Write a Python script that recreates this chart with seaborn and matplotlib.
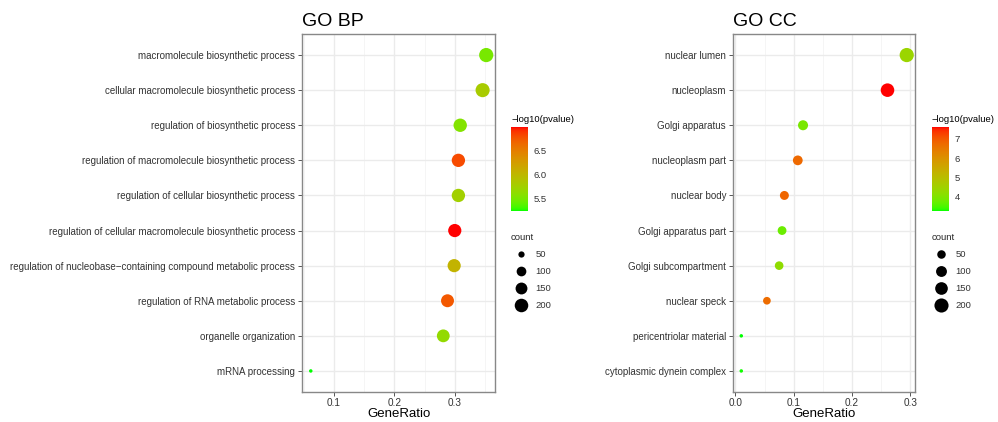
import matplotlib
matplotlib.use("Agg")
import matplotlib.pyplot as plt
import matplotlib.colors as mcolors
from matplotlib.lines import Line2D
from matplotlib.ticker import MultipleLocator
import numpy as np
import pandas as pd
import seaborn as sns

# ---- data (listed top to bottom) ----
bp_terms = [
    "macromolecule biosynthetic process",
    "cellular macromolecule biosynthetic process",
    "regulation of biosynthetic process",
    "regulation of macromolecule biosynthetic process",
    "regulation of cellular biosynthetic process",
    "regulation of cellular macromolecule biosynthetic process",
    "regulation of nucleobase\u2212containing compound metabolic process",
    "regulation of RNA metabolic process",
    "organelle organization",
    "mRNA processing",
]
bp_ratio = [0.352, 0.346, 0.309, 0.306, 0.306, 0.300, 0.299, 0.288, 0.281, 0.062]
bp_logp = [5.50, 5.80, 5.55, 6.82, 5.75, 7.00, 6.05, 6.75, 5.65, 5.24]
bp_count = [222, 218, 195, 193, 193, 189, 188, 181, 177, 38]
bp_cticks = [5.5, 6.0, 6.5]

cc_terms = [
    "nuclear lumen",
    "nucleoplasm",
    "Golgi apparatus",
    "nucleoplasm part",
    "nuclear body",
    "Golgi apparatus part",
    "Golgi subcompartment",
    "nuclear speck",
    "pericentriolar material",
    "cytoplasmic dynein complex",
]
cc_ratio = [0.294, 0.261, 0.116, 0.107, 0.084, 0.080, 0.075, 0.054, 0.010, 0.010]
cc_logp = [4.40, 7.62, 3.90, 6.75, 6.80, 3.75, 4.20, 6.70, 3.25, 3.28]
cc_count = [203, 180, 80, 74, 58, 55, 52, 37, 7, 7]
cc_cticks = [4, 5, 6, 7]

size_breaks = [50, 100, 150, 200]

W, H = 998, 422
DPI = 100


def lab_gradient(low, high, n=256):
    """green -> red gradient interpolated in CIE Lab, like ggplot's scale_colour_gradient"""
    m = np.array([[0.4124, 0.3576, 0.1805], [0.2126, 0.7152, 0.0722], [0.0193, 0.1192, 0.9505]])
    white = np.array([0.95047, 1.0, 1.08883])

    def to_lab(c):
        rgb = np.array(mcolors.to_rgb(c))
        lin = np.where(rgb <= 0.04045, rgb / 12.92, ((rgb + 0.055) / 1.055) ** 2.4)
        xyz = m @ lin / white
        f = np.where(xyz > 0.008856, np.cbrt(xyz), 7.787 * xyz + 16 / 116)
        return np.array([116 * f[1] - 16, 500 * (f[0] - f[1]), 200 * (f[1] - f[2])])

    t = np.linspace(0, 1, n)[:, None]
    lab = to_lab(low) * (1 - t) + to_lab(high) * t
    fy = (lab[:, 0] + 16) / 116
    f = np.stack([fy + lab[:, 1] / 500, fy, fy - lab[:, 2] / 200], axis=1)
    xyz = np.where(f ** 3 > 0.008856, f ** 3, (f - 16 / 116) / 7.787) * white
    lin = np.clip(xyz @ np.linalg.inv(m).T, 0, 1)
    rgb = np.where(lin <= 0.0031308, 12.92 * lin, 1.055 * lin ** (1 / 2.4) - 0.055)
    return mcolors.ListedColormap(np.clip(rgb, 0, 1))


def dot_area(values, cmin, cmax, d0=3.5, d1=14.2):
    # ggplot-style area scale: diameter grows with sqrt of rescaled count (px -> pt^2)
    t = (np.asarray(values, dtype=float) - cmin) / (cmax - cmin)
    d_px = d0 + (d1 - d0) * np.sqrt(np.clip(t, 0, 1))
    return (d_px * 72 / DPI) ** 2


sns.set_theme(style="white")
plt.rcParams["font.family"] = ["Liberation Sans", "DejaVu Sans"]
plt.rcParams["axes.unicode_minus"] = True

cmap = lab_gradient("#00FF00", "#FF0000")
text_col = "#333333"

fig = plt.figure(figsize=(W / DPI, H / DPI), dpi=DPI)


def px_box(left, top, right, bottom):
    return [left / W, 1 - bottom / H, (right - left) / W, (bottom - top) / H]


def draw_panel(terms, ratio, logp, count, cticks, title, ax_box, cbar_left, handle_len, text_pad):
    df = pd.DataFrame({"term": terms, "GeneRatio": ratio, "logp": logp, "count": count})
    ax = fig.add_axes(px_box(*ax_box))
    cmin, cmax = min(count), max(count)
    size_map = {c: float(dot_area(c, cmin, cmax)) for c in df["count"].unique()}
    vmin, vmax = min(logp), max(logp)

    sns.scatterplot(data=df, x="GeneRatio", y="term", hue="logp", palette=cmap,
                    hue_norm=(vmin, vmax), size="count", sizes=size_map,
                    linewidth=0, edgecolor="none", legend=False, ax=ax, zorder=3)

    n = len(terms)
    ax.set_ylim(n - 1 + 0.6, -0.6)
    span = max(ratio) - min(ratio)
    ax.set_xlim(min(ratio) - 0.05 * span, max(ratio) + 0.05 * span)
    ax.xaxis.set_major_locator(MultipleLocator(0.1))
    ax.xaxis.set_minor_locator(MultipleLocator(0.05))
    ax.xaxis.set_major_formatter(matplotlib.ticker.FormatStrFormatter("%.1f"))
    ax.grid(which="major", color="#EBEBEB", linewidth=1.0, zorder=0)
    ax.grid(which="minor", axis="x", color="#F4F4F4", linewidth=0.6, zorder=0)
    ax.set_axisbelow(True)
    for s in ax.spines.values():
        s.set_color("#888888")
        s.set_linewidth(1.0)
    ax.tick_params(which="major", left=True, bottom=True, length=3, width=0.7,
                   color="#555555", labelsize=7, labelcolor=text_col, pad=2)
    ax.tick_params(axis="x", labelsize=7.2, pad=1)
    ax.tick_params(which="minor", length=0)
    ax.set_ylabel("")
    ax.set_xlabel("GeneRatio", fontsize=9.5, color="black", labelpad=0)
    ax.set_title(title, loc="left", fontsize=14, color="black", pad=6)

    # colour bar
    cax = fig.add_axes(px_box(cbar_left, 127, cbar_left + 17, 211))
    sm = plt.cm.ScalarMappable(norm=mcolors.Normalize(vmin, vmax), cmap=cmap)
    cb = fig.colorbar(sm, cax=cax)
    cb.outline.set_visible(False)
    cb.set_ticks(cticks)
    cb.ax.tick_params(direction="in", color="white", length=3, width=0.6,
                      left=True, right=True, labelsize=6.8, labelcolor=text_col, pad=4)
    fig.text(cbar_left / W, 1 - 119 / H, "\u2212log10(pvalue)", fontsize=6.8,
             color="black", va="center", ha="left")

    # size key
    handles = [Line2D([], [], linestyle="", marker="o", color="black", markeredgewidth=0,
                      markersize=float(np.sqrt(dot_area(b, cmin, cmax)))) for b in size_breaks]
    leg = fig.legend(handles, [str(b) for b in size_breaks], title="count",
                     loc="upper left", bbox_to_anchor=(cbar_left / W, 1 - 233 / H),
                     frameon=False, fontsize=6.8, title_fontsize=6.8, alignment="left",
                     borderpad=0, borderaxespad=0, labelspacing=0.85,
                     handlelength=handle_len, handletextpad=text_pad)
    for t in leg.get_texts():
        t.set_color(text_col)
    return ax


draw_panel(bp_terms, bp_ratio, bp_logp, bp_count, bp_cticks, "GO BP",
           (302, 34, 495, 392), 511, 2.2, 0.4)
draw_panel(cc_terms, cc_ratio, cc_logp, cc_count, cc_cticks, "GO CC",
           (733, 34, 915, 392), 932, 1.8, 0.7)

fig.savefig("out.png", dpi=DPI, facecolor="white")
